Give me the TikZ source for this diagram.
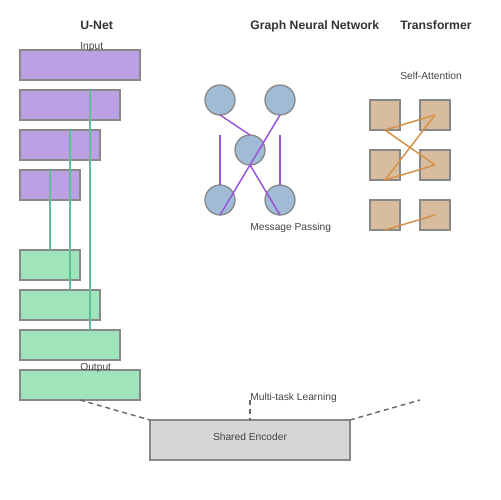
\documentclass[tikz,border=0pt]{standalone}
\usepackage{fontspec}
\setmainfont{Liberation Sans}
\usetikzlibrary{calc}
\definecolor{boxline}{HTML}{888888}
\definecolor{purplefill}{HTML}{BBA0E3}
\definecolor{greenfill}{HTML}{A0E4BC}
\definecolor{skipline}{HTML}{5FBD9A}
\definecolor{circfill}{HTML}{A0BBD6}
\definecolor{edgepurple}{HTML}{9955D8}
\definecolor{tanfill}{HTML}{D8BC9E}
\definecolor{attnline}{HTML}{D4914A}
\definecolor{encfill}{HTML}{D6D6D6}
\definecolor{dashcol}{HTML}{666666}
\definecolor{titlecol}{HTML}{333333}
\definecolor{labelcol}{HTML}{444444}
\begin{document}
\begin{tikzpicture}[x=0.02cm,y=-0.02cm,
  box/.style={draw=boxline, line width=0.75pt, inner sep=0pt, outer sep=0pt, minimum height=0.6cm},
  pbox/.style={box, fill=purplefill},
  gbox/.style={box, fill=greenfill},
  gcirc/.style={circle, draw=boxline, line width=0.75pt, fill=circfill, inner sep=0pt, outer sep=0pt, minimum size=0.6cm},
  tsq/.style={box, fill=tanfill, minimum width=0.6cm},
  encbox/.style={box, fill=encfill, minimum width=4cm, minimum height=0.8cm},
  title/.style={anchor=base west, inner sep=0pt, text=titlecol, font=\fontsize{6.95}{8}\selectfont\bfseries},
  lbl/.style={anchor=base west, inner sep=0pt, text=labelcol, font=\fontsize{5.82}{7}\selectfont},
  skip/.style={draw=skipline, line width=0.85pt},
  gedge/.style={draw=edgepurple, line width=0.85pt},
  attn/.style={draw=attnline, line width=0.85pt},
  dashln/.style={draw=dashcol, line width=0.8pt, dash pattern=on 2.8pt off 2.2pt}]
\useasboundingbox (0,0) rectangle (500,500);

% Titles
\node[title] (tunet) at (80,30) {U-Net};
\node[title] (tgnn) at (250,30) {Graph Neural Network};
\node[title] (ttr) at (400,30) {Transformer};

% U-Net encoder boxes
\node[pbox, minimum width=2.4cm] (p1) at (80,65) {};
\node[pbox, minimum width=2.0cm] (p2) at (70,105) {};
\node[pbox, minimum width=1.6cm] (p3) at (60,145) {};
\node[pbox, minimum width=1.2cm] (p4) at (50,185) {};
% U-Net decoder boxes
\node[gbox, minimum width=1.2cm] (g1) at (50,265) {};
\node[gbox, minimum width=1.6cm] (g2) at (60,305) {};
\node[gbox, minimum width=2.0cm] (g3) at (70,345) {};
\node[gbox, minimum width=2.4cm] (g4) at (80,385) {};

% Skip connections
\draw[skip] (p4.north) -- (g1.north);
\draw[skip] ($(p3.north west)+(50,0)$) -- ($(g2.north west)+(50,0)$);
\draw[skip] ($(p2.north west)+(70,0)$) -- ($(g3.north west)+(70,0)$);

\node[lbl] (inp) at (80,50) {Input};
\node[lbl] (outp) at (80,370) {Output};

% GNN
\node[gcirc] (c1) at (220,100) {};
\node[gcirc] (c2) at (280,100) {};
\node[gcirc] (c3) at (250,150) {};
\node[gcirc] (c4) at (220,200) {};
\node[gcirc] (c5) at (280,200) {};
\coordinate (v1) at (220,135);
\coordinate (v2) at (280,135);
\draw[gedge] (c1.south) -- (c3.north);
\draw[gedge] (c2.south) -- (c4.south);
\draw[gedge] (c3.south) -- (c5.south);
\draw[gedge] (v1) -- (c4.north);
\draw[gedge] (v2) -- (c5.north);
\node[lbl] (mp) at (250,230) {Message Passing};

% Transformer
\node[tsq] (t1) at (385,115) {};
\node[tsq] (t2) at (435,115) {};
\node[tsq] (t3) at (385,165) {};
\node[tsq] (t4) at (435,165) {};
\node[tsq] (t5) at (385,215) {};
\node[tsq] (t6) at (435,215) {};
\draw[attn] (t1.south) -- (t2.center);
\draw[attn] (t1.south) -- (t4.center);
\draw[attn] (t2.center) -- (t3.south);
\draw[attn] (t3.south) -- (t4.center);
\draw[attn] (t5.south) -- (t6.center);
\node[lbl] (sa) at (400,80) {Self-Attention};

% Shared encoder
\node[encbox] (enc) at (250,440) {};
\node[lbl, anchor=base] (encl) at (250,440) {Shared Encoder};
\coordinate (mid) at (250,400);
\coordinate (right) at (420,400);
\draw[dashln] (g4.south) -- (enc.north west);
\draw[dashln] (mid) -- (enc.north);
\draw[dashln] (enc.north east) -- (right);
\node[lbl] (mtl) at (250,400) {Multi-task Learning};
\end{tikzpicture}
\end{document}
